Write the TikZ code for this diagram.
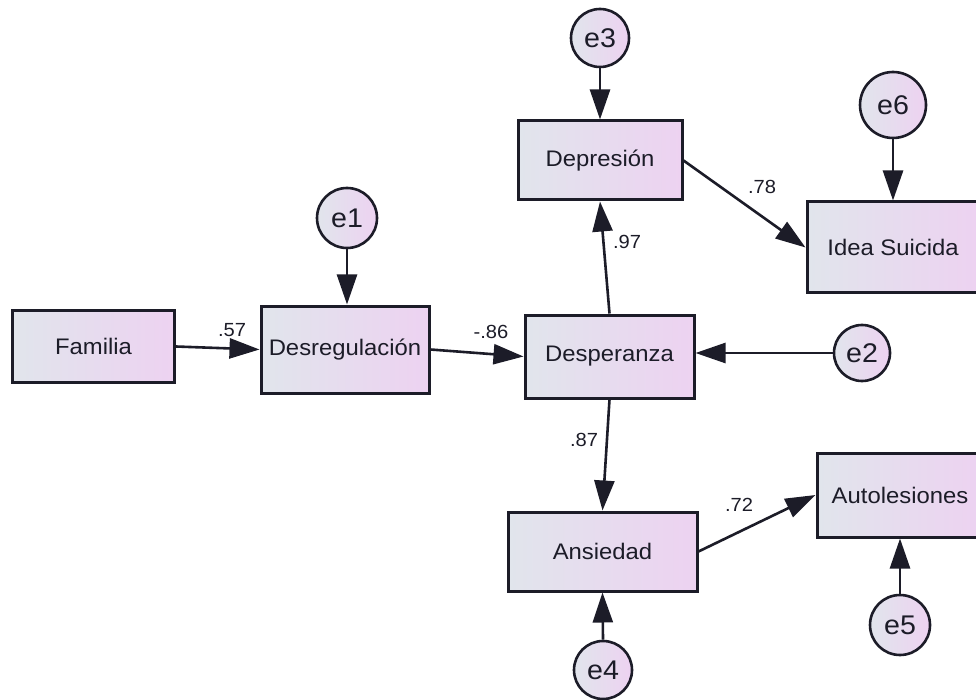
\documentclass[tikz,border=0pt]{standalone}
\usepackage{fontspec}
\setmainfont{Liberation Sans}[FakeStretch=1.06]
\usetikzlibrary{arrows.meta,shadings}
\definecolor{lft}{HTML}{E1E5EC}
\definecolor{rgt}{HTML}{EDD2F1}
\definecolor{txt}{HTML}{1C1C28}
\tikzset{
  obs/.style={draw=txt, line width=3pt, rectangle, left color=lft, right color=rgt,
     text=txt, font=\fontsize{22.5}{25}\selectfont, inner sep=0pt},
  err/.style={draw=txt, line width=2.6pt, circle, left color=lft, right color=rgt,
     text=txt, font=\fontsize{27}{29}\selectfont, inner sep=0pt},
  path/.style={draw=txt, line width=2.6pt, -{Triangle[length=30pt,width=20pt]}},
  coef/.style={text=txt, font=\fontsize{19}{21}\selectfont, inner sep=0pt}
}
\begin{document}
\begin{tikzpicture}[x=1pt,y=-1pt]
\useasboundingbox (0,0) rectangle (976,700);
\fill[white] (0,0) rectangle (976,700);
% boxes
\node[obs, minimum width=162pt, minimum height=72pt] (fam) at (93.5,346.5) {Familia};
\node[obs, minimum width=168pt, minimum height=87pt] (des) at (345,349.5) {Desregulación};
\node[obs, minimum width=169pt, minimum height=83pt] (desp) at (609.5,356.5) {Desperanza};
\node[obs, minimum width=164pt, minimum height=79pt] (dep) at (600,160.5) {Depresión};
\node[obs, minimum width=172pt, minimum height=91pt] (idea) at (893,247.5) {Idea Suicida};
\node[obs, minimum width=189pt, minimum height=79pt] (ans) at (602.5,551.5) {Ansiedad};
\node[obs, minimum width=166pt, minimum height=84pt] (aut) at (900,495) {Autolesiones};
% error terms
\node[err, minimum size=60pt] (e1) at (347,218) {e1};
\node[err, minimum size=56pt] (e2) at (862,353) {e2};
\node[err, minimum size=58pt] (e3) at (600,38) {e3};
\node[err, minimum size=58pt] (e4) at (603,670) {e4};
\node[err, minimum size=60pt] (e5) at (900,625) {e5};
\node[err, minimum size=66pt] (e6) at (893,105) {e6};
% paths
\draw[path] (fam.east) -- (des.west);
\draw[path] (des.east) -- (desp.west);
\draw[path] (desp.north) -- (dep.south);
\draw[path] (dep.east) -- (idea.west);
\draw[path] (desp.south) -- (ans.north);
\draw[path] (ans.east) -- (aut.west);
\draw[path] (e1.south) -- (e1.south |- des.north);
\draw[path] (e2.west) -- (e2.west -| desp.east);
\draw[path] (e3.south) -- (dep.north);
\draw[path] (e6.south) -- (idea.north);
\draw[path] (e4.north) -- (ans.south);
\draw[path] (e5.north) -- (aut.south);
% coefficients
\node[coef] (c1) at (232,330) {.57};
\node[coef] (c2) at (491,332) {-.86};
\node[coef] (c3) at (627,242) {.97};
\node[coef] (c4) at (762,187) {.78};
\node[coef] (c5) at (584,440) {.87};
\node[coef] (c6) at (739,505) {.72};
\end{tikzpicture}
\end{document}
